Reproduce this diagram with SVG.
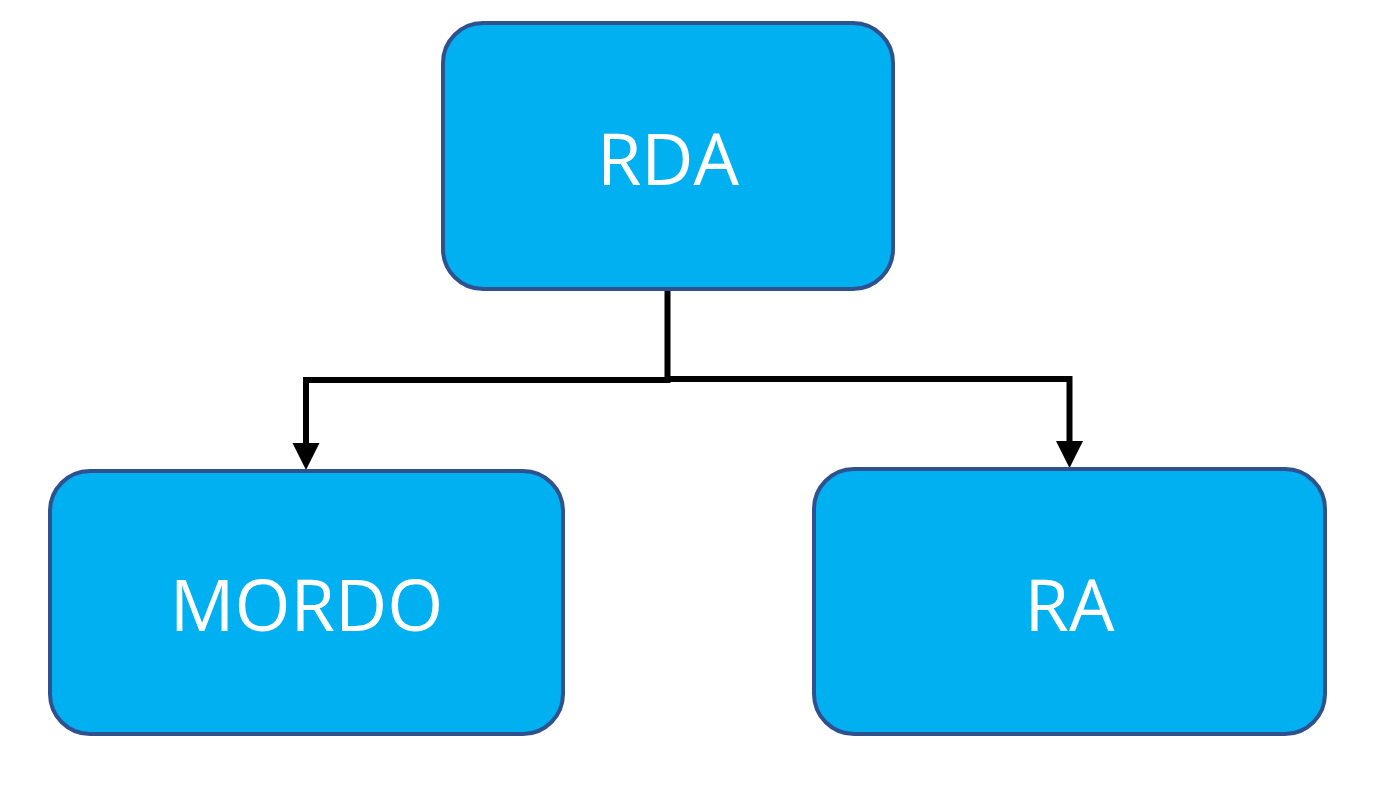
<svg xmlns="http://www.w3.org/2000/svg" width="1377" height="797" viewBox="0 0 1377 797">
<defs>
<style>
.box{fill:#00B0F0;stroke:#2F528F;stroke-width:4}
.lbl{font-family:"Open Sans","Noto Sans",sans-serif;font-size:72px;fill:#fff;text-anchor:middle}
.conn{fill:none;stroke:#000;stroke-width:6}
.head{fill:#000}
</style>
</defs>
<rect width="1377" height="797" fill="#fff"/>
<g id="connectors">
<path class="conn" d="M667.5,289 V380 H306 V446"/>
<polygon class="head" points="292.5,443 319.5,443 306,470"/>
<path class="conn" d="M667.5,379 H1069.5 V444"/>
<polygon class="head" points="1056,441 1083,441 1069.5,468"/>
</g>
<g id="node-rda">
<rect class="box" x="443" y="23" width="450" height="266" rx="40" ry="40"/>
<text class="lbl" x="668" y="185">RDA</text>
</g>
<g id="node-mordo">
<rect class="box" x="50" y="471" width="513" height="263" rx="40" ry="40"/>
<text class="lbl" x="306.5" y="631">MORDO</text>
</g>
<g id="node-ra">
<rect class="box" x="814" y="469" width="511" height="265" rx="40" ry="40"/>
<text class="lbl" x="1069.5" y="631">RA</text>
</g>
</svg>
